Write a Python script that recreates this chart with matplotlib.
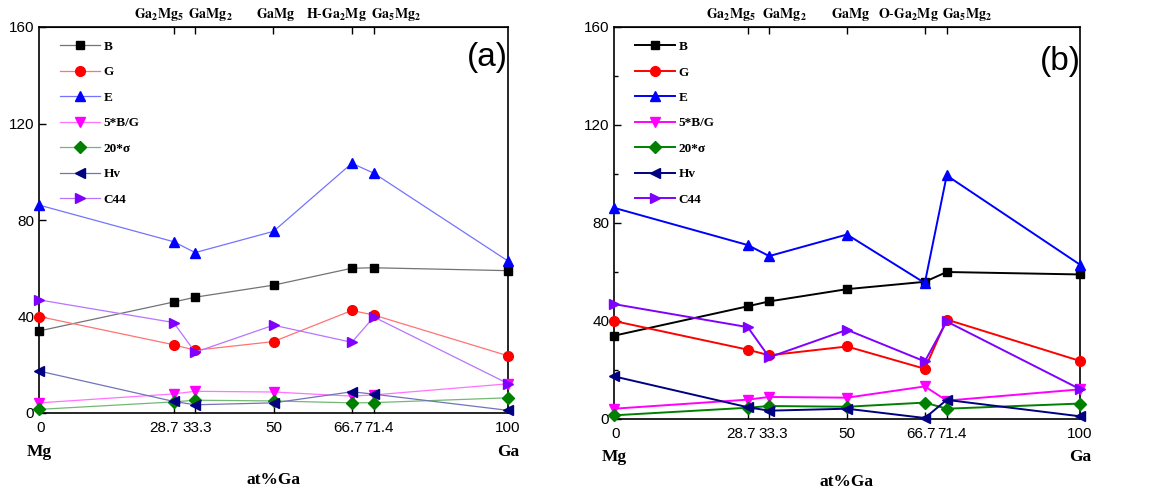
import numpy as np
import matplotlib
matplotlib.use('Agg')
import matplotlib.pyplot as plt
from matplotlib.colors import to_rgb
from matplotlib.transforms import ScaledTranslation, blended_transform_factory

plt.rcParams['font.family'] = ['Liberation Sans', 'DejaVu Sans']
plt.rcParams['mathtext.fontset'] = 'stix'

# composiciones (at% Ga)
x = [0, 28.7, 33.3, 50, 66.7, 71.4, 100]
xlabels = ['0', '28.7', '33.3', '50', '66.7', '71.4', '100']
top_pos = [28.7, 33.3, 50, 66.7, 71.4]
top_a = [r'$\mathbf{Ga_2Mg_5}$', r'$\mathbf{GaMg_2}$', r'$\mathbf{GaMg}$',
         r'$\mathbf{H\text{-}Ga_2Mg}$', r'$\mathbf{Ga_5Mg_2}$']
top_b = [r'$\mathbf{Ga_2Mg_5}$', r'$\mathbf{GaMg_2}$', r'$\mathbf{GaMg}$',
         r'$\mathbf{O\text{-}Ga_2Mg}$', r'$\mathbf{Ga_5Mg_2}$']

labels = ['B', 'G', 'E', '5*B/G', '20*σ', 'Hv', 'C44']

# panel (a)
B_a = [34, 46, 48, 53, 60, 60.2, 59]
G_a = [40, 28.3, 26, 29.6, 42.5, 40.6, 23.7]
E_a = [86.2, 71, 66.5, 75.3, 103.5, 99.4, 63]
BG_a = [4.2, 7.9, 9, 8.7, 7, 7.5, 12.1]
sig_a = [1.5, 4.6, 5.3, 5, 4.2, 4.3, 6.3]
Hv_a = [17.4, 4.8, 3.4, 4.2, 8.8, 7.8, 1.1]
C44_a = [46.9, 37.5, 25.2, 36.4, 29.3, 39.8, 12.2]

# panel (b)
B_b = [34, 46, 48, 53, 56, 60, 59]
G_b = [40, 28.3, 26, 29.6, 20.5, 40.6, 23.7]
E_b = [86.2, 71, 66.5, 75.3, 55.5, 99.4, 63]
BG_b = [4.2, 7.9, 9, 8.7, 13.3, 7.5, 12.1]
sig_b = [1.5, 4.6, 5.3, 5, 6.7, 4.2, 6.3]
Hv_b = [17.4, 4.8, 3.4, 4.2, 0.4, 7.8, 1.1]
C44_b = [46.9, 37.5, 25.2, 36.4, 23.5, 39.8, 12.2]

colores = ['#000000', '#ff0000', '#0000ff', '#ff00ff', '#008000', '#000080', '#8000ff']
marcas = ['s', 'o', '^', 'v', 'D', '<', '>']
tamanos = [6, 7, 7.5, 7.5, 6, 7.5, 7.5]

def aclarar(c, f):
    r = np.array(to_rgb(c))
    return tuple(r + (1 - r) * f)

def mover(textos, desp):
    # desplaza etiquetas en pixeles (dpi 100)
    for t, dx in zip(textos, desp):
        t.set_transform(t.get_transform() + ScaledTranslation(dx / 100, 0, fig.dpi_scale_trans))

fig = plt.figure(figsize=(11.71, 4.96), dpi=100)
ax1 = fig.add_axes([39/1171, 83/496, 469/1171, 386/496])
ax2 = fig.add_axes([614/1171, 77/496, 466/1171, 392/496])

def panel(ax, series, tops, offs, boffs, letra, lw, light, ly, mg_y, at_y):
    for s, lab, c, m, ms in zip(series, labels, colores, marcas, tamanos):
        ax.plot(x, s, color=aclarar(c, light), lw=lw, marker=m, ms=ms,
                mfc=c, mec=c, label=lab, clip_on=False, zorder=3)
    ax.set_xlim(0, 100)
    ax.set_ylim(0, 160)
    ax.set_xticks(x)
    ax.set_xticklabels(xlabels)
    ax.set_yticks([0, 40, 80, 120, 160])
    ax.tick_params(axis='both', direction='in', length=5, width=1, labelsize=11)
    ax.tick_params(axis='x', pad=6)
    mover(ax.get_xticklabels(), boffs)
    for sp in ax.spines.values():
        sp.set_linewidth(1.2)
    sec = ax.secondary_xaxis('top')
    sec.set_xticks(top_pos)
    sec.set_xticklabels(tops, fontsize=10)
    sec.tick_params(direction='in', length=5, width=1, pad=3)
    mover(sec.get_xticklabels(), offs)
    ax.legend(loc='upper left', bbox_to_anchor=(0.02, 0.995), frameon=False,
              handlelength=3.0, labelspacing=1.0, handletextpad=0.3,
              prop={'family': 'Liberation Serif', 'weight': 'bold', 'size': 9.5})
    ax.text(0.957, ly, letra, transform=ax.transAxes, ha='center', va='center', fontsize=24)
    tr = blended_transform_factory(ax.transData, ax.transAxes)
    ax.text(0, mg_y, 'Mg', transform=tr, ha='center', va='center',
            family='Liberation Serif', weight='bold', fontsize=12.5)
    ax.text(100, mg_y, 'Ga', transform=tr, ha='center', va='center',
            family='Liberation Serif', weight='bold', fontsize=12.5)
    ax.text(0.5, at_y, 'at%Ga', transform=ax.transAxes, ha='center', va='center',
            family='Liberation Serif', weight='bold', fontsize=12.5)

panel(ax1, [B_a, G_a, E_a, BG_a, sig_a, Hv_a, C44_a], top_a,
      [-14.6, 15, 2.5, -15, 22], [2, -10, 2, 0, -4, 5, 0],
      '(a)', 0.9, 0.45, 0.922, -0.101, -0.174)
panel(ax2, [B_b, G_b, E_b, BG_b, sig_b, Hv_b, C44_b], top_b,
      [-17, 15, 4, -16, 21], [2, -7, 4, 0, -4, 5, 0],
      '(b)', 1.4, 0.0, 0.911, -0.096, -0.161)

ax2.set_yticks([20, 60, 100, 140], minor=True)
ax2.tick_params(axis='y', which='minor', direction='in', length=3, width=1)

fig.savefig('out.png', dpi=100)
